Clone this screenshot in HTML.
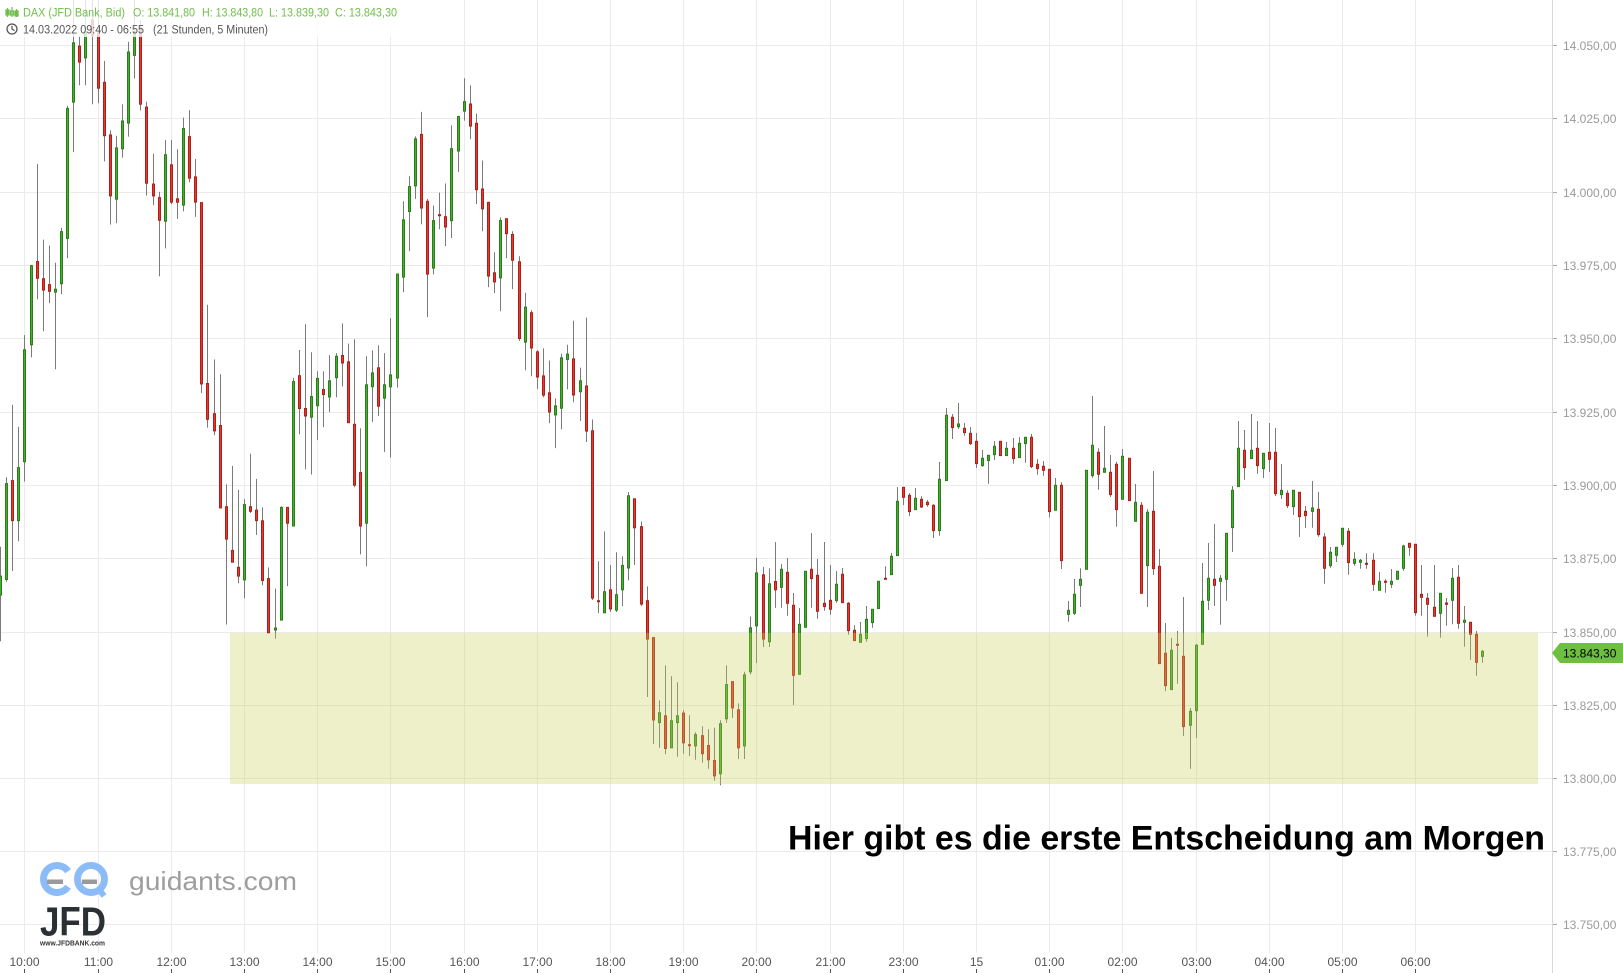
<!DOCTYPE html>
<html>
<head>
<meta charset="utf-8">
<style>
html,body{margin:0;padding:0;background:#fff;width:1623px;height:973px;overflow:hidden}
svg{display:block}
</style>
</head>
<body>
<svg id="chart" width="1623" height="973" viewBox="0 0 1623 973" xmlns="http://www.w3.org/2000/svg" font-family="'Liberation Sans', Arial, sans-serif">
<rect x="0" y="0" width="1623" height="973" fill="#ffffff"/>
<!-- horizontal grid -->
<g stroke="#ebebeb" stroke-width="1">
<line x1="0" x2="1552" y1="45.5" y2="45.5"/>
<line x1="0" x2="1552" y1="118.5" y2="118.5"/>
<line x1="0" x2="1552" y1="192.5" y2="192.5"/>
<line x1="0" x2="1552" y1="265.5" y2="265.5"/>
<line x1="0" x2="1552" y1="338.5" y2="338.5"/>
<line x1="0" x2="1552" y1="412.5" y2="412.5"/>
<line x1="0" x2="1552" y1="485.5" y2="485.5"/>
<line x1="0" x2="1552" y1="558.5" y2="558.5"/>
<line x1="0" x2="1552" y1="632.5" y2="632.5"/>
<line x1="0" x2="1552" y1="705.5" y2="705.5"/>
<line x1="0" x2="1552" y1="778.5" y2="778.5"/>
<line x1="0" x2="1552" y1="851.5" y2="851.5"/>
<line x1="0" x2="1552" y1="924.5" y2="924.5"/>
</g>
<!-- vertical grid -->
<g stroke="#ebebeb" stroke-width="1">
<line x1="24.5" x2="24.5" y1="0" y2="953"/>
<line x1="98.5" x2="98.5" y1="0" y2="953"/>
<line x1="171.5" x2="171.5" y1="0" y2="953"/>
<line x1="244.5" x2="244.5" y1="0" y2="953"/>
<line x1="317.5" x2="317.5" y1="0" y2="953"/>
<line x1="390.5" x2="390.5" y1="0" y2="953"/>
<line x1="464.5" x2="464.5" y1="0" y2="953"/>
<line x1="537.5" x2="537.5" y1="0" y2="953"/>
<line x1="610.5" x2="610.5" y1="0" y2="953"/>
<line x1="683.5" x2="683.5" y1="0" y2="953"/>
<line x1="756.5" x2="756.5" y1="0" y2="953"/>
<line x1="830.5" x2="830.5" y1="0" y2="953"/>
<line x1="903.5" x2="903.5" y1="0" y2="953"/>
<line x1="976.5" x2="976.5" y1="0" y2="953"/>
<line x1="1049.5" x2="1049.5" y1="0" y2="953"/>
<line x1="1122.5" x2="1122.5" y1="0" y2="953"/>
<line x1="1196.5" x2="1196.5" y1="0" y2="953"/>
<line x1="1269.5" x2="1269.5" y1="0" y2="953"/>
<line x1="1342.5" x2="1342.5" y1="0" y2="953"/>
<line x1="1415.5" x2="1415.5" y1="0" y2="953"/>
</g>

<g id="candles"></g>

<!-- highlight zone -->
<rect x="230" y="633" width="1308" height="151" fill="#c8d25a" fill-opacity="0.33"/>

<!-- header -->
<rect x="0" y="0" width="402" height="37" fill="#ffffff" fill-opacity="0.8"/>
<g stroke="#6fbf4a" stroke-width="1.2" fill="none">
<line x1="7.5" y1="8" x2="7.5" y2="17"/>
<rect x="6" y="10" width="3" height="5" fill="#6fbf4a"/>
<line x1="12" y1="7" x2="12" y2="17"/>
<rect x="10.5" y="11" width="3" height="4"/>
<line x1="16.5" y1="9" x2="16.5" y2="17"/>
<rect x="15" y="11" width="3" height="5" fill="#6fbf4a"/>
</g>
<g font-size="11.5" fill="#6fbf4a">
<text x="23" y="16.7" textLength="102" lengthAdjust="spacingAndGlyphs">DAX (JFD Bank, Bid)</text>
<text x="133" y="16.7" textLength="62" lengthAdjust="spacingAndGlyphs">O: 13.841,80</text>
<text x="202" y="16.7" textLength="61" lengthAdjust="spacingAndGlyphs">H: 13.843,80</text>
<text x="269" y="16.7" textLength="60" lengthAdjust="spacingAndGlyphs">L: 13.839,30</text>
<text x="335" y="16.7" textLength="62" lengthAdjust="spacingAndGlyphs">C: 13.843,30</text>
</g>
<circle cx="12" cy="29" r="5" fill="none" stroke="#555" stroke-width="1.3"/>
<polyline points="12,25.8 12,29 14.5,30.6" fill="none" stroke="#555" stroke-width="1.2"/>
<g font-size="11.5" fill="#555">
<text x="23" y="33.3" textLength="121" lengthAdjust="spacingAndGlyphs">14.03.2022 09:40 - 06:55</text>
<text x="153" y="33.3" textLength="115" lengthAdjust="spacingAndGlyphs">(21 Stunden, 5 Minuten)</text>
</g>

<!-- y axis -->
<line x1="1552.5" x2="1552.5" y1="0" y2="973" stroke="#d8d8d8"/>
<g stroke="#aaa">
<line x1="1553" x2="1557" y1="45.5" y2="45.5"/>
<line x1="1553" x2="1557" y1="118.5" y2="118.5"/>
<line x1="1553" x2="1557" y1="192.5" y2="192.5"/>
<line x1="1553" x2="1557" y1="265.5" y2="265.5"/>
<line x1="1553" x2="1557" y1="338.5" y2="338.5"/>
<line x1="1553" x2="1557" y1="412.5" y2="412.5"/>
<line x1="1553" x2="1557" y1="485.5" y2="485.5"/>
<line x1="1553" x2="1557" y1="558.5" y2="558.5"/>
<line x1="1553" x2="1557" y1="632.5" y2="632.5"/>
<line x1="1553" x2="1557" y1="705.5" y2="705.5"/>
<line x1="1553" x2="1557" y1="778.5" y2="778.5"/>
<line x1="1553" x2="1557" y1="851.5" y2="851.5"/>
<line x1="1553" x2="1557" y1="924.5" y2="924.5"/>
</g>
<g font-size="12" fill="#9a9a9a">
<text x="1563" y="50">14.050,00</text>
<text x="1563" y="123">14.025,00</text>
<text x="1563" y="197">14.000,00</text>
<text x="1563" y="270">13.975,00</text>
<text x="1563" y="343">13.950,00</text>
<text x="1563" y="417">13.925,00</text>
<text x="1563" y="490">13.900,00</text>
<text x="1563" y="563">13.875,00</text>
<text x="1563" y="637">13.850,00</text>
<text x="1563" y="710">13.825,00</text>
<text x="1563" y="783">13.800,00</text>
<text x="1563" y="856">13.775,00</text>
<text x="1563" y="929">13.750,00</text>
</g>
<polygon points="1552,653 1560,643 1623,643 1623,663 1560,663" fill="#6dbf3f"/>
<text x="1563" y="657.5" font-size="12" fill="#000">13.843,30</text>

<!-- x axis -->
<g font-size="12" fill="#555" text-anchor="middle">
<text x="24.5" y="966">10:00</text>
<text x="98.5" y="966">11:00</text>
<text x="171.5" y="966">12:00</text>
<text x="244.5" y="966">13:00</text>
<text x="317.5" y="966">14:00</text>
<text x="390.5" y="966">15:00</text>
<text x="464.5" y="966">16:00</text>
<text x="537.5" y="966">17:00</text>
<text x="610.5" y="966">18:00</text>
<text x="683.5" y="966">19:00</text>
<text x="756.5" y="966">20:00</text>
<text x="830.5" y="966">21:00</text>
<text x="903.5" y="966">23:00</text>
<text x="976.5" y="966">15</text>
<text x="1049.5" y="966">01:00</text>
<text x="1122.5" y="966">02:00</text>
<text x="1196.5" y="966">03:00</text>
<text x="1269.5" y="966">04:00</text>
<text x="1342.5" y="966">05:00</text>
<text x="1415.5" y="966">06:00</text>
</g>
<g stroke="#555">
<line x1="24.5" x2="24.5" y1="969" y2="973"/>
<line x1="98.5" x2="98.5" y1="969" y2="973"/>
<line x1="171.5" x2="171.5" y1="969" y2="973"/>
<line x1="244.5" x2="244.5" y1="969" y2="973"/>
<line x1="317.5" x2="317.5" y1="969" y2="973"/>
<line x1="390.5" x2="390.5" y1="969" y2="973"/>
<line x1="464.5" x2="464.5" y1="969" y2="973"/>
<line x1="537.5" x2="537.5" y1="969" y2="973"/>
<line x1="610.5" x2="610.5" y1="969" y2="973"/>
<line x1="683.5" x2="683.5" y1="969" y2="973"/>
<line x1="756.5" x2="756.5" y1="969" y2="973"/>
<line x1="830.5" x2="830.5" y1="969" y2="973"/>
<line x1="903.5" x2="903.5" y1="969" y2="973"/>
<line x1="976.5" x2="976.5" y1="969" y2="973"/>
<line x1="1049.5" x2="1049.5" y1="969" y2="973"/>
<line x1="1122.5" x2="1122.5" y1="969" y2="973"/>
<line x1="1196.5" x2="1196.5" y1="969" y2="973"/>
<line x1="1269.5" x2="1269.5" y1="969" y2="973"/>
<line x1="1342.5" x2="1342.5" y1="969" y2="973"/>
<line x1="1415.5" x2="1415.5" y1="969" y2="973"/>
</g>

<!-- annotation -->
<text x="788" y="849.3" font-size="34" font-weight="bold" fill="#000" textLength="757" lengthAdjust="spacingAndGlyphs">Hier gibt es die erste Entscheidung am Morgen</text>

<!-- logo -->
<path d="M68.06,871.25 A13.5,13.5 0 1 0 68.06,886.75" fill="none" stroke="#8cbcf7" stroke-width="7"/>
<circle cx="91" cy="879" r="13.5" fill="none" stroke="#8cbcf7" stroke-width="7"/>
<line x1="99" y1="889" x2="104" y2="896" stroke="#8cbcf7" stroke-width="6"/>
<rect x="47" y="879.5" width="16" height="4.5" fill="#9a9a9a"/>
<rect x="82" y="879.5" width="15" height="4.5" fill="#9a9a9a"/>
<text x="40" y="935.7" font-size="41" font-weight="bold" fill="#2b3035" textLength="66" lengthAdjust="spacingAndGlyphs">JFD</text>
<text x="40" y="945.5" font-size="7" font-weight="bold" fill="#333" textLength="65" lengthAdjust="spacingAndGlyphs">www.JFDBANK.com</text>
<text x="129" y="890" font-size="26" fill="#9e9e9e" textLength="168" lengthAdjust="spacingAndGlyphs">guidants.com</text>
</svg>

<script>
(function(){
var segs=[
{i0:0,f:function(z){return 45.3+(z-108)*0.4206;},d:"g,1370,1415,1300,1525;g,1150,1378,1135,1383;r,1143,1238,963,1358;g,1112,1238,1015,1287;g,832,1098,797,1145;g,632,820,630,850;r,622,662,390,712;r,663,690,570,788;r,677,693,584,721;g,688,695,625,878;g,551,675,542,700;g,258,567,252,614;g,102,243,0,362;r,110,148,85,203;g,75,138,0,203;r,48,86,0,248;r,79,210,0,246;r,196,323,145,384;r,321,466,310,534;g,352,474,323,531;g,288,354,248,375;g,124,293,100,325;g,75,132,0,187;r,67,248,48,263;r,255,436,242,465;r,438,466,366,488;r,470,524,456,657;g,368,526,333,591;r,392,481,333,486;r,473,481,355,521;g,306,488,280,503;r,325,424,262,434;r,421,481,378,516;r,482,913,482,935;r,912,997,725,1017;r,984,1025,855,1035;r,1012,1208,890,1208;r,1205,1282,1152,1485;r,1309,1337,1108,1337;r,1349,1370,1165,1387;g,1200,1379,1187,1423;r,1205,1216,1079,1220;r,1213,1238,1139,1272"},
{i0:43,f:function(z){return 118.6+(z-175)*0.3955;},d:"r,1192,1343,1158,1355;r,1338,1475,1310,1475;g,1463,1468,1363,1490;g,1158,1443,1155,1443;r,1158,1198,1158,1357;g,840,1205,830,1205;r,825,908,760,973;r,908,927,695,1062;g,878,930,766,1075;g,832,901,814,988;r,860,873,814,955;g,838,879,773,917;g,776,830,768,880;r,774,793,693,852;r,790,944,744,944;r,948,1102,733,1107;r,1070,1205,958,1277;g,848,1198,776,1307;g,818,853,761,942;r,805,902,748,927;g,848,882,768,1018;g,823,853,680,1032;g,568,831,568,855;g,431,576,384,614;g,347,410,321,510;g,226,345,220,378;r,215,401,158,442;r,384,568,378,677;g,433,553,395,569;r,418,418,362,455;r,423,449,339,497;g,251,433,192,477;g,170,257,168,310;g,132,156,73,180;r,138,194,91,227;r,187,355,162,391;r,353,403,281,460;r,387,573,385,601;r,565,588,513,616;g,433,578,425,662;r,428,466,428,528;r,468,533,460,606;r,537,731,523,737"},
{i0:86,f:function(z){return 265.7+(z-173)*0.376;},d:"g,283,376,245,451;r,298,392,291,467;r,402,469,398,501;r,466,517,393,523;r,511,562,425,592;g,546,570,526,658;g,418,552,407,608;g,408,422,383,502;r,421,517,319,536;g,479,508,444,586;r,493,613,311,642;r,612,1057,582,1062;r,1064,1064,959,1097;g,1040,1096,880,1097;r,1035,1086,969,1094;g,1048,1089,935,1094;g,970,1035,946,1078;g,785,977,775,1010;r,793,870,793,969;r,867,1073,853,1078;r,1064,1166,1026,1320;r,1162,1381,1162,1445;g,1362,1388,1329,1455;r,1370,1457,1236,1472;g,1383,1455,1265,1455;g,1370,1388,1281,1479;r,1363,1442,1355,1471;r,1447,1447,1369,1477;g,1420,1450,1414,1487;r,1423,1471,1398,1495;r,1449,1487,1406,1511;r,1489,1530,1402,1543;g,1391,1524,1382,1555;g,1287,1378,1236,1389;r,1279,1349,1279,1376;r,1354,1455,1337,1485;g,1261,1450,1253,1485;g,1136,1253,1106,1260;g,990,1131,950,1230;r,995,1166,974,1187;g,1019,1173,978,1187;r,1013,1035,908,1083"},
{i0:128,f:function(z){return 380+z/3;},d:"g,568,622,552,683;r,577,670,534,707;r,676,886,639,975;g,733,883,684,883;g,574,742,574,742;r,568,596,459,683;r,586,694,537,716;r,670,680,486,692;r,661,688,555,704;g,613,662,573,668;r,583,668,564,668;r,670,752,666,764;r,751,782,736,782;g,763,787,726,787;g,718,776,678,785;g,688,728,688,743;g,604,686,604,686;r,595,595,559,597;g,529,584,519,584;g,364,527,321,527;r,322,352,322,375;r,346,395,339,408;g,355,389,324,389;r,358,381,349,384;r,367,374,360,380;r,376,452,373,474;g,298,452,246,467;g,106,302,84,302;r,112,143,102,177;g,132,140,69,147;r,145,158,129,167;r,160,191,141,195;r,184,251,159,264;g,235,257,210,260;g,226,242,226,311;g,199,224,183,240;r,184,227,184,227;g,205,227,186,227;r,205,236,174,251;g,190,233,171,233;g,172,191,172,248;r,172,260,162,264;r,253,266,237,284;r,259,271,243,287;r,268,395,268,412;g,316,391,294,391;r,316,542,307,567;g,691,703,663,725;g,643,700,597,705;g,598,616,565,681;g,271,568,271,568;g,196,287,48,293;r,217,283,205,329;g,265,277,138,277;r,277,344,225,351;r,253,389,245,440;g,229,358,207,358;r,235,362,235,362;g,367,424,312,424;r,376,640,366,640;g,397,557,388,681;r,394,566,273,585;r,559,851,507,851;r,820,917,729,933;g,811,929,774,929;r,793,793,753,911;r,829,1040,651,1068;g,994,1036,984,1166;g,796,992,792,1074;g,664,793,549,793;g,595,661,489,690;r,598,616,432,678;g,595,604,585,734;g,460,598,460,662;g,331,443,318,516;g,205,320,123,320;r,211,263,150,299;g,211,236,102,236;r,205,257,123,281;g,220,266,220,294;r,217,238,129,276;r,217,341,144,348;g,331,344,252,357;r,340,377,331,384;g,331,380,331,405;r,337,410,337,471;r,394,407,378,444"},
{i0:215,f:function(z){return 400+z/3;},d:"g,324,334,243,383;r,328,404,276,410;r,411,505,399,551;g,457,497,441,503;g,442,466,442,486;g,385,433,385,440;r,394,488,384,524;g,478,490,457,497;g,481,487,477,506;r,490,490,460,506;r,481,553,460,572;g,544,571,516,571;r,544,544,538,578;g,544,553,507,564;g,514,538,514,538;g,438,505,434,512;r,430,442,430,467;r,433,638,433,647;r,583,592,495,647;r,595,613,579,710;r,622,649,495,649;g,580,640,580,713;r,609,613,594,677;g,535,601,504,673;r,532,670,495,686;g,661,667,618,740;r,667,703,667,779;r,703,787,693,827;g,754,769,750,788"}
];
var out='';
for(var s=0;s<segs.length;s++){
  var sg=segs[s];var items=sg.d.split(';');
  for(var k=0;k<items.length;k++){
    var p=items[k].split(',');
    var i=sg.i0+k;
    var cx=Math.floor(6.1*i+0.5);
    var bt=sg.f(+p[1]),bb=sg.f(+p[2]),wt=sg.f(+p[3]),wb=sg.f(+p[4]);
    var g=p[0]==='g';
    out+='<line x1="'+(cx+0.5)+'" x2="'+(cx+0.5)+'" y1="'+wt.toFixed(1)+'" y2="'+wb.toFixed(1)+'" stroke="#7a7a7a" stroke-width="1"/>';
    var h=Math.max(bb-bt,1);
    out+='<rect x="'+(cx-0.5)+'" y="'+bt.toFixed(1)+'" width="2" height="'+h.toFixed(1)+'" fill="'+(g?'#43b02a':'#e53a30')+'" stroke="'+(g?'#2a7d1a':'#b01e18')+'" stroke-width="1"/>';
  }
}
document.getElementById('candles').innerHTML=out;
})();
</script>
</body>
</html>
